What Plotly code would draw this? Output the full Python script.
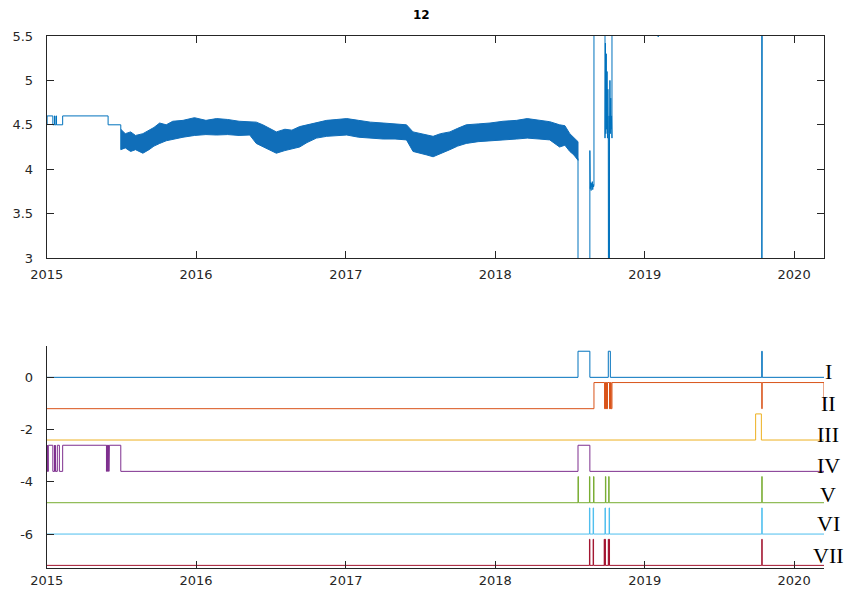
import plotly.graph_objects as go
import pandas as pd

# ---------------- top panel: measured level ----------------
# early stepped readings (hv steps)
early_dates = ["2015-01-01", "2015-01-02", "2015-01-16", "2015-01-20", "2015-01-21",
               "2015-01-24", "2015-01-25", "2015-02-09", "2015-05-31", "2015-07-01"]
early_vals = [4.5, 4.6, 4.5, 4.6, 4.5, 4.6, 4.5, 4.6, 4.5, 4.5]

# envelope of the dense high-rate record
band_dates = ["2015-07-01", "2015-07-12", "2015-07-25", "2015-08-06", "2015-08-24",
              "2015-09-08", "2015-09-20", "2015-10-04", "2015-10-20", "2015-11-05",
              "2015-11-30", "2015-12-28", "2016-01-25", "2016-02-20", "2016-03-18",
              "2016-04-15", "2016-05-11", "2016-05-27", "2016-06-12", "2016-06-28",
              "2016-07-15", "2016-08-05", "2016-08-22", "2016-09-10", "2016-09-28",
              "2016-10-21", "2016-11-15", "2016-12-10", "2017-01-03", "2017-02-01",
              "2017-03-02", "2017-04-02", "2017-05-01", "2017-05-29", "2017-06-14",
              "2017-07-01", "2017-07-18", "2017-08-02", "2017-08-20", "2017-09-12",
              "2017-10-01", "2017-10-22", "2017-11-20", "2017-12-19", "2018-01-20",
              "2018-02-22", "2018-03-20", "2018-04-18", "2018-05-14", "2018-06-07",
              "2018-06-20", "2018-07-02", "2018-07-12", "2018-07-22"]
band_upper = [4.45, 4.40, 4.42, 4.38, 4.40,
              4.44, 4.47, 4.52, 4.50, 4.54,
              4.55, 4.58, 4.55, 4.57, 4.56,
              4.54, 4.535, 4.53, 4.50, 4.46,
              4.42, 4.45, 4.44, 4.48, 4.50,
              4.52, 4.55, 4.56, 4.57, 4.55,
              4.53, 4.52, 4.51, 4.50, 4.42,
              4.40, 4.38, 4.37, 4.40, 4.42,
              4.46, 4.50, 4.51, 4.52, 4.54,
              4.55, 4.57, 4.55, 4.535, 4.50,
              4.49, 4.40, 4.36, 4.31]
band_lower = [4.22, 4.24, 4.20, 4.22, 4.18,
              4.22, 4.26, 4.29, 4.32, 4.34,
              4.36, 4.38, 4.39, 4.385, 4.39,
              4.38, 4.385, 4.29, 4.26, 4.22,
              4.18, 4.21, 4.23, 4.25, 4.30,
              4.35, 4.37, 4.38, 4.385, 4.36,
              4.35, 4.34, 4.34, 4.33, 4.20,
              4.18, 4.16, 4.14, 4.18, 4.22,
              4.26, 4.29, 4.31, 4.32, 4.33,
              4.34, 4.35, 4.34, 4.33, 4.25,
              4.27, 4.20, 4.16, 4.10]

# disturbed period (values outside 3..5.5 run off the axes)
late_dates = ["2018-07-22", "2018-07-22", "2018-08-20", "2018-08-20", "2018-08-21",
              "2018-08-22", "2018-08-23", "2018-08-24", "2018-08-25", "2018-08-26",
              "2018-08-27", "2018-08-28", "2018-08-29", "2018-08-30", "2018-08-30",
              "2018-09-26", "2018-09-26", "2018-09-27", "2018-09-28", "2018-09-29",
              "2018-09-30", "2018-10-01", "2018-10-02", "2018-10-03", "2018-10-04",
              "2018-10-05", "2018-10-06", "2018-10-06", "2018-10-07", "2018-10-08",
              "2018-10-09", "2018-10-10", "2018-10-11", "2018-10-12", "2018-10-13",
              "2018-10-13", "2019-02-02", "2019-02-03", "2019-02-04", "2019-10-14",
              "2019-10-14", "2019-10-15", "2019-10-15", "2020-03-14"]
late_vals = [4.12, 0.0, 0.0, 4.21, 3.78,
             3.85, 3.76, 3.84, 3.80, 3.86,
             3.77, 3.83, 3.80, 3.82, 6.0,
             6.0, 4.35, 5.42, 4.40, 5.30,
             4.45, 5.10, 4.35, 4.90, 4.40,
             0.0, 4.60, 0.0, 4.40, 5.00,
             4.40, 4.80, 4.45, 4.60, 4.35,
             6.0, 6.0, 5.49, 6.0, 6.0,
             0.0, 0.0, 6.0, 6.0]

# ---------------- bottom panel: status flags ----------------
flag_names = ["I", "II", "III", "IV", "V", "VI", "VII"]
flag_offsets = [0.0, -1.2, -2.4, -3.6, -4.8, -6.0, -7.2]
flag_colors = ["#0072BD", "#D95319", "#EDB120", "#7E2F8E", "#77AC30", "#4DBEEE", "#A2142F"]

flag_I = [("2018-07-22", "2018-08-20"), ("2018-10-04", "2018-10-09"), ("2019-10-14", "2019-10-15")]
flag_II = [("2018-08-30", "2018-09-25"), ("2018-09-26", "2018-09-27"), ("2018-09-28", "2018-09-29"),
           ("2018-09-30", "2018-10-01"), ("2018-10-02", "2018-10-07"), ("2018-10-08", "2018-10-09"),
           ("2018-10-10", "2018-10-11"), ("2018-10-13", "2019-10-14"), ("2019-10-15", "2020-03-14")]
flag_III = [("2019-09-29", "2019-10-13")]
flag_IV = [("2015-01-01", "2015-01-02"), ("2015-01-03", "2015-01-04"), ("2015-01-05", "2015-01-16"),
           ("2015-01-20", "2015-01-21"), ("2015-01-22", "2015-01-23"), ("2015-01-27", "2015-02-01"),
           ("2015-02-09", "2015-05-27"), ("2015-05-28", "2015-05-29"), ("2015-05-30", "2015-05-31"),
           ("2015-06-01", "2015-06-02"), ("2015-06-03", "2015-07-01"), ("2018-07-22", "2018-08-20")]
flag_V = [("2018-07-22", "2018-07-23"), ("2018-08-19", "2018-08-20"), ("2018-08-29", "2018-08-30"),
          ("2018-09-27", "2018-09-28"), ("2018-10-05", "2018-10-06"), ("2019-10-14", "2019-10-15")]
flag_VI = [("2018-08-19", "2018-08-20"), ("2018-08-28", "2018-08-29"), ("2018-09-26", "2018-09-27"),
           ("2018-10-06", "2018-10-07"), ("2019-10-14", "2019-10-15")]
flag_VII = [("2018-08-19", "2018-08-20"), ("2018-08-28", "2018-08-29"), ("2018-09-24", "2018-09-25"),
            ("2018-09-26", "2018-09-27"), ("2018-10-04", "2018-10-05"), ("2018-10-06", "2018-10-07"),
            ("2019-10-14", "2019-10-15")]
flag_intervals = [flag_I, flag_II, flag_III, flag_IV, flag_V, flag_VI, flag_VII]

year_ticks = ["2015-01-01", "2016-01-01", "2017-01-01", "2018-01-01", "2019-01-01", "2020-01-01"]
year_labels = ["2015", "2016", "2017", "2018", "2019", "2020"]
t_start, t_end = "2015-01-01", "2020-03-14"

TICK_FONT = dict(family="DejaVu Sans", size=13, color="#262626")
AX_COLOR = "#262626"


def flag_trace_xy(intervals, offset):
    xs, ys = [t_start], [offset]
    for a, b in intervals:
        xs += [a, a, b, b]
        ys += [offset, offset + 1, offset + 1, offset]
    xs.append(t_end)
    ys.append(offset)
    return pd.to_datetime(xs), ys


fig = go.Figure()

# stepped start
fig.add_trace(go.Scatter(x=pd.to_datetime(early_dates + ["2015-07-01"]),
                         y=early_vals + [band_lower[0]],
                         mode="lines", line=dict(color="#0072BD", width=1, shape="hv"),
                         xaxis="x", yaxis="y", showlegend=False, hoverinfo="skip"))
# dense record drawn as its envelope
band_x = pd.to_datetime(band_dates + band_dates[::-1])
band_y = band_upper + band_lower[::-1]
fig.add_trace(go.Scatter(x=band_x, y=band_y, mode="lines", fill="toself",
                         fillcolor="#106EB9", line=dict(color="#106EB9", width=1),
                         xaxis="x", yaxis="y", showlegend=False, hoverinfo="skip"))
# disturbed period
fig.add_trace(go.Scatter(x=pd.to_datetime(late_dates), y=late_vals, mode="lines",
                         line=dict(color="#0072BD", width=1),
                         xaxis="x", yaxis="y", showlegend=False, hoverinfo="skip"))

# flags
for name, off, col, iv in zip(flag_names, flag_offsets, flag_colors, flag_intervals):
    fx, fy = flag_trace_xy(iv, off)
    fig.add_trace(go.Scatter(x=fx, y=fy, mode="lines", line=dict(color=col, width=1),
                             xaxis="x2", yaxis="y2", showlegend=False, name=name,
                             hoverinfo="skip"))

# flag labels at the right edge
label_y = [0.23, -1.01, -2.17, -3.36, -4.47, -5.59, -6.82]
annotations = [dict(text=n, x=828 / 845, xref="paper", y=ly, yref="y2",
                    xanchor="center", yanchor="middle", showarrow=False,
                    font=dict(family="Liberation Serif", size=22, color="#000000"))
               for n, ly in zip(flag_names, label_y)]
annotations.append(dict(text="<b>12</b>", x=421 / 845, xref="paper", y=1 - 15 / 589,
                        yref="paper", xanchor="center", yanchor="middle", showarrow=False,
                        font=dict(family="DejaVu Sans", size=12, color="#000000")))

xcommon = dict(range=[t_start, t_end], tickvals=year_ticks, ticktext=year_labels,
               ticks="inside", ticklen=7, tickcolor=AX_COLOR, showline=True,
               linecolor=AX_COLOR, linewidth=1, showgrid=False, zeroline=False,
               tickfont=TICK_FONT, automargin=False,
               domain=[46.7 / 845, 824 / 845])
ycommon = dict(ticks="inside", ticklen=7, tickcolor=AX_COLOR, showline=True,
               linecolor=AX_COLOR, linewidth=1, showgrid=False, zeroline=False,
               tickfont=TICK_FONT, ticklabelstandoff=10, automargin=False)

fig.update_layout(
    width=845, height=589,
    margin=dict(l=0, r=0, t=0, b=0, autoexpand=False),
    paper_bgcolor="white", plot_bgcolor="white",
    xaxis=dict(**xcommon, anchor="y", mirror="ticks", ticklabelstandoff=4),
    yaxis=dict(**ycommon, anchor="x", mirror="ticks", range=[3, 5.5],
               tickvals=[3, 3.5, 4, 4.5, 5, 5.5],
               ticktext=["3", "3.5", "4", "4.5", "5", "5.5"],
               domain=[(589 - 258) / 589, (589 - 36) / 589]),
    xaxis2=dict(**xcommon, anchor="y2", ticklabelstandoff=0),
    yaxis2=dict(**ycommon, anchor="x2", range=[-7.3, 1.2],
                tickvals=[0, -2, -4, -6], ticktext=["0", "-2", "-4", "-6"],
                domain=[(589 - 568) / 589, (589 - 346) / 589]),
    annotations=annotations,
)

fig.write_html("out.html")
